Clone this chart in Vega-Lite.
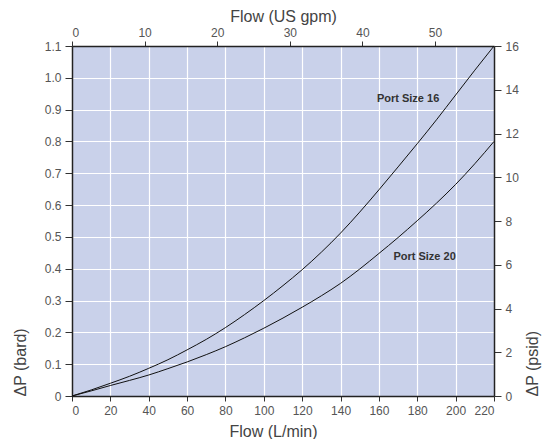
{
  "$schema": "https://vega.github.io/schema/vega-lite/v6.json",
  "autosize": "none",
  "width": 422,
  "height": 350,
  "padding": {"left": 72, "top": 46, "right": 48, "bottom": 43},
  "background": "white",
  "config": {
    "view": {"fill": "#C9D1EA", "stroke": null},
    "axis": {
      "labelFont": "Liberation Sans",
      "titleFont": "Liberation Sans",
      "labelFontSize": 12,
      "titleFontSize": 16,
      "titleFontWeight": "normal",
      "labelColor": "#555555",
      "titleColor": "#444444",
      "domainColor": "#222222",
      "domainWidth": 1.5,
      "tickColor": "#333333",
      "tickWidth": 1,
      "gridColor": "#FFFFFF",
      "gridOpacity": 1,
      "gridWidth": 1.2,
      "labelOverlap": false
    }
  },
  "datasets": {
    "curves": [
      {"series": "Port Size 16", "flow": 0, "bar": 0},
      {"series": "Port Size 16", "flow": 10, "bar": 0.019},
      {"series": "Port Size 16", "flow": 20, "bar": 0.040},
      {"series": "Port Size 16", "flow": 30, "bar": 0.062},
      {"series": "Port Size 16", "flow": 40, "bar": 0.087},
      {"series": "Port Size 16", "flow": 50, "bar": 0.114},
      {"series": "Port Size 16", "flow": 60, "bar": 0.145},
      {"series": "Port Size 16", "flow": 70, "bar": 0.178},
      {"series": "Port Size 16", "flow": 80, "bar": 0.215},
      {"series": "Port Size 16", "flow": 90, "bar": 0.256},
      {"series": "Port Size 16", "flow": 100, "bar": 0.300},
      {"series": "Port Size 16", "flow": 110, "bar": 0.347},
      {"series": "Port Size 16", "flow": 120, "bar": 0.397},
      {"series": "Port Size 16", "flow": 130, "bar": 0.452},
      {"series": "Port Size 16", "flow": 140, "bar": 0.512},
      {"series": "Port Size 16", "flow": 150, "bar": 0.578},
      {"series": "Port Size 16", "flow": 160, "bar": 0.648},
      {"series": "Port Size 16", "flow": 170, "bar": 0.720},
      {"series": "Port Size 16", "flow": 180, "bar": 0.793},
      {"series": "Port Size 16", "flow": 190, "bar": 0.868},
      {"series": "Port Size 16", "flow": 200, "bar": 0.946},
      {"series": "Port Size 16", "flow": 210, "bar": 1.024},
      {"series": "Port Size 16", "flow": 220, "bar": 1.1},
      {"series": "Port Size 20", "flow": 0, "bar": 0},
      {"series": "Port Size 20", "flow": 10, "bar": 0.016},
      {"series": "Port Size 20", "flow": 20, "bar": 0.033},
      {"series": "Port Size 20", "flow": 30, "bar": 0.049},
      {"series": "Port Size 20", "flow": 40, "bar": 0.066},
      {"series": "Port Size 20", "flow": 50, "bar": 0.086},
      {"series": "Port Size 20", "flow": 60, "bar": 0.107},
      {"series": "Port Size 20", "flow": 70, "bar": 0.130},
      {"series": "Port Size 20", "flow": 80, "bar": 0.155},
      {"series": "Port Size 20", "flow": 90, "bar": 0.183},
      {"series": "Port Size 20", "flow": 100, "bar": 0.213},
      {"series": "Port Size 20", "flow": 110, "bar": 0.245},
      {"series": "Port Size 20", "flow": 120, "bar": 0.279},
      {"series": "Port Size 20", "flow": 130, "bar": 0.315},
      {"series": "Port Size 20", "flow": 140, "bar": 0.354},
      {"series": "Port Size 20", "flow": 150, "bar": 0.399},
      {"series": "Port Size 20", "flow": 160, "bar": 0.448},
      {"series": "Port Size 20", "flow": 170, "bar": 0.498},
      {"series": "Port Size 20", "flow": 180, "bar": 0.551},
      {"series": "Port Size 20", "flow": 190, "bar": 0.606},
      {"series": "Port Size 20", "flow": 200, "bar": 0.665},
      {"series": "Port Size 20", "flow": 210, "bar": 0.730},
      {"series": "Port Size 20", "flow": 220, "bar": 0.800}
    ],
    "labels": [
      {"label": "Port Size 16", "flow": 175.2, "bar": 0.9325},
      {"label": "Port Size 20", "flow": 183.8, "bar": 0.436}
    ],
    "aux": [
      {"gpm": 0, "psid": 0},
      {"gpm": 58.12, "psid": 16}
    ]
  },
  "layer": [
    {
      "encoding": {
        "x": {
          "field": "flow", "type": "quantitative",
          "scale": {"domain": [0, 220], "nice": false},
          "axis": {
            "title": "Flow (L/min)",
            "values": [0, 20, 40, 60, 80, 100, 120, 140, 160, 180, 200, 220],
            "tickSize": 5, "labelPadding": 4,
            "titleX": 201, "titleY": 40, "titleBaseline": "alphabetic", "titleAlign": "center"
          }
        },
        "y": {
          "field": "bar", "type": "quantitative",
          "scale": {"domain": [0, 1.1], "nice": false},
          "axis": {
            "title": "ΔP (bard)",
            "values": [0, 0.1, 0.2, 0.3, 0.4, 0.5, 0.6, 0.7, 0.8, 0.9, 1.0, 1.1],
            "labelExpr": "datum.value == 0 ? '0' : format(datum.value, '.1f')",
            "tickSize": 7, "labelPadding": 4,
            "titleAngle": -90, "titleX": -52, "titleY": 350,
            "titleAlign": "left", "titleBaseline": "middle"
          }
        }
      },
      "layer": [
        {
          "data": {"name": "curves"},
          "mark": {"type": "line", "color": "#111111", "strokeWidth": 1, "interpolate": "monotone"},
          "encoding": {
            "detail": {"field": "series"}
          }
        },
        {
          "data": {"name": "labels"},
          "mark": {"type": "text", "font": "Liberation Sans", "fontWeight": "bold", "fontSize": 11, "color": "#333333"},
          "encoding": {
            "text": {"field": "label"}
          }
        }
      ]
    },
    {
      "data": {"name": "aux"},
      "mark": {"type": "point", "opacity": 0},
      "encoding": {
        "x": {
          "field": "gpm", "type": "quantitative",
          "scale": {"domain": [0, 58.12], "nice": false},
          "axis": {
            "orient": "top", "title": "Flow (US gpm)", "grid": false,
            "values": [0, 10, 20, 30, 40, 50],
            "tickSize": 5, "labelPadding": 2,
            "titleX": 211, "titleY": -25, "titleBaseline": "alphabetic", "titleAlign": "center"
          }
        },
        "y": {
          "field": "psid", "type": "quantitative",
          "scale": {"domain": [0, 16], "nice": false},
          "axis": {
            "orient": "right", "title": "ΔP (psid)", "grid": false,
            "values": [0, 2, 4, 6, 8, 10, 12, 14, 16],
            "tickSize": 7, "labelPadding": 4,
            "titleAngle": -90, "titleX": 38, "titleY": 350,
            "titleAlign": "left", "titleBaseline": "middle"
          }
        }
      }
    }
  ],
  "resolve": {"scale": {"x": "independent", "y": "independent"}}
}
